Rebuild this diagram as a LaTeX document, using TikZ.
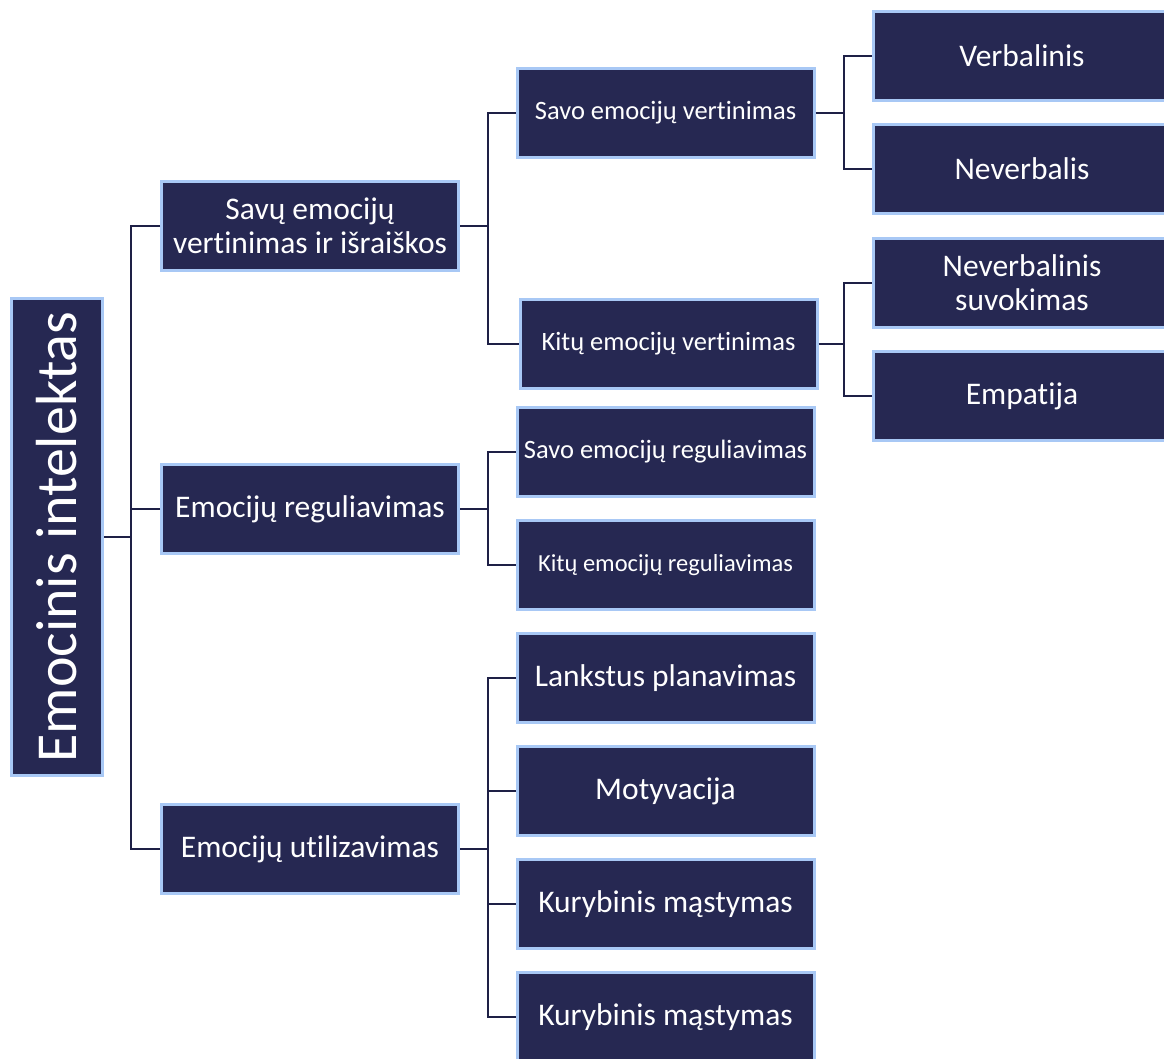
\documentclass[tikz,border=0pt]{standalone}
\usepackage{fontspec}
\setmainfont{Carlito}[Ligatures=NoCommon]
\usepackage{tikz}
\definecolor{Marine}{RGB}{38, 40, 82}
\definecolor{BleuClair}{RGB}{168, 200, 245}
\definecolor{Trait}{RGB}{30, 32, 70}

\begin{document}
\begin{tikzpicture}[x=1pt, y=-1pt]

      \tikzstyle{Box}=[rectangle, draw=BleuClair, fill=Marine, line width=3pt, text=white,
        minimum width=297pt, minimum height=89pt, inner sep=0pt, align=center,
        font=\fontsize{31.5}{34}\selectfont];
      \tikzstyle{Petit}=[Box, font=\fontsize{26.5}{30}\selectfont];
      \tikzstyle{Lien}=[draw=Trait, line width=2.5pt];

        \useasboundingbox (0,0) rectangle (1164,1059);

        % racine
        \node[Box, rotate=90, minimum width=477pt, minimum height=91pt,
          font=\fontsize{58}{60}\selectfont](Emo) at (57, 537) {Emocinis intelektas};

        \node[Box](Vert) at (310, 226) {Savų emocijų\\vertinimas ir išraiškos};
        \node[Box](Reg) at (310, 509) {Emocijų reguliavimas};
        \node[Box](Util) at (310, 849) {Emocijų utilizavimas};

        \node[Petit](VertSavo) at (665.5, 113) {Savo emocijų vertinimas};
        \node[Petit](VertKitu) at (668.5, 344) {Kitų emocijų vertinimas};
        \node[Petit](RegSavo) at (665.5, 452) {Savo emocijų reguliavimas};
        \node[Petit, font=\fontsize{24.5}{28}\selectfont](RegKitu) at (665.5, 565) {Kitų emocijų reguliavimas};

        \node[Box](UtilPlan) at (665.5, 678) {Lankstus planavimas};
        \node[Box](UtilMot) at (665.5, 791) {Motyvacija};
        \node[Box](UtilKur) at (665.5, 904) {Kurybinis mąstymas};
        \node[Box](UtilKurB) at (665.5, 1017) {Kurybinis mąstymas};

        \node[Box](SavoVerb) at (1022, 56) {Verbalinis};
        \node[Box](SavoNev) at (1022, 169) {Neverbalis};
        \node[Box](KituNev) at (1022, 283) {Neverbalinis\\suvokimas};
        \node[Box](KituEmp) at (1022, 396) {Empatija};

        % magistrales
        \coordinate (BusEmo) at (131, 537);
        \coordinate (BusVert) at (488, 226);
        \coordinate (BusReg) at (488, 509);
        \coordinate (BusUtil) at (488, 849);
        \coordinate (BusSavo) at (844, 113);
        \coordinate (BusKitu) at (844, 344);

        \draw[Lien] (Emo.south) -- (BusEmo);
        \draw[Lien] (Vert.west) -| (BusEmo);
        \draw[Lien] (Util.west) -| (BusEmo);
        \draw[Lien] (Reg.west) -- (Reg.west -| BusEmo);

        \draw[Lien] (Vert.east) -- (BusVert);
        \draw[Lien] (VertSavo.west) -| (BusVert);
        \draw[Lien] (VertKitu.west) -| (BusVert);

        \draw[Lien] (Reg.east) -- (BusReg);
        \draw[Lien] (RegSavo.west) -| (BusReg);
        \draw[Lien] (RegKitu.west) -| (BusReg);

        \draw[Lien] (Util.east) -- (BusUtil);
        \draw[Lien] (UtilPlan.west) -| (BusUtil);
        \draw[Lien] (UtilMot.west) -| (BusUtil);
        \draw[Lien] (UtilKur.west) -| (BusUtil);
        \draw[Lien] (UtilKurB.west) -| (BusUtil);

        \draw[Lien] (VertSavo.east) -- (BusSavo);
        \draw[Lien] (SavoVerb.west) -| (BusSavo);
        \draw[Lien] (SavoNev.west) -| (BusSavo);

        \draw[Lien] (VertKitu.east) -- (BusKitu);
        \draw[Lien] (KituNev.west) -| (BusKitu);
        \draw[Lien] (KituEmp.west) -| (BusKitu);

    \end{tikzpicture}
\end{document}
